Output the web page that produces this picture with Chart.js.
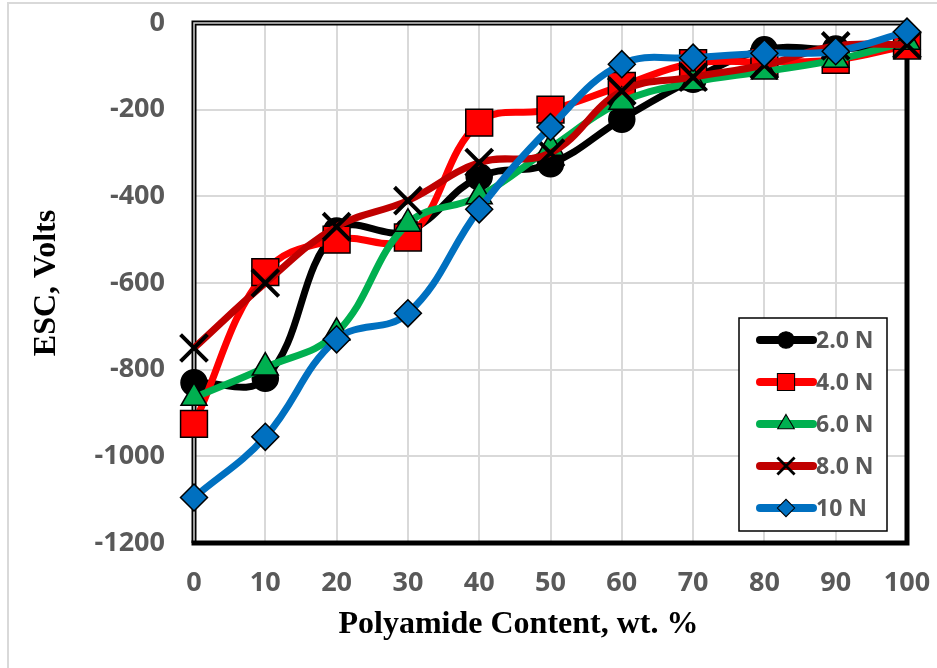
<!DOCTYPE html>
<html>
<head>
<meta charset="utf-8">
<title>ESC vs Polyamide Content</title>
<script src="https://cdn.jsdelivr.net/npm/chart.js"></script>
<style>
  body { margin: 0; background: #fff; overflow: hidden; }
  #wrap { position: relative; width: 937px; height: 668px; }
  #edge { position: absolute; left: 7px; top: 2px; width: 1000px; height: 1000px;
          border-left: 2px solid #d9d9d9; border-top: 2px solid #d9d9d9; }
  #chart { position: absolute; left: 0; top: 0; }
</style>
</head>
<body>
<div id="wrap">
  <div id="edge"></div>
  <canvas id="chart" width="937" height="668"></canvas>
</div>
<script>
// Polyamide content (wt. %)
const content = [0, 10, 20, 30, 40, 50, 60, 70, 80, 90, 100];

// ESC (Volts) per load
const esc2N  = [-830, -820, -480, -480, -355, -325, -222, -130, -62, -60, -50];
const esc4N  = [-925, -575, -500, -495, -230, -200, -145, -93, -90, -85, -52];
const esc6N  = [-865, -795, -715, -463, -400, -288, -182, -137, -112, -85, -43];
const esc8N  = [-750, -600, -470, -410, -322, -300, -157, -125, -97, -53, -50];
const esc10N = [-1095, -955, -730, -670, -430, -240, -95, -80, -70, -65, -20];

const seriesNames = ['2.0 N', '4.0 N', '6.0 N', '8.0 N', '10 N'];

const tickFont = { family: "'Open Sans', sans-serif", weight: 'bold', size: 27 };
const titleFont = { family: "'Liberation Serif', 'Times New Roman', serif", weight: 'bold', size: 32 };

function toPoints(values) {
  return values.map((v, i) => ({ x: content[i], y: v }));
}

function series(label, values, color, style, radius, fill, bw, order) {
  return {
    label: label,
    data: toPoints(values),
    borderColor: color,
    backgroundColor: color,
    borderWidth: 7,
    tension: 0.4,
    pointStyle: style,
    pointRadius: radius,
    pointHoverRadius: radius,
    pointBackgroundColor: fill,
    pointBorderColor: '#000',
    pointBorderWidth: bw,
    clip: false,
    order: order
  };
}

// frame round the plot area: thin double line left/top, heavy line right/bottom
const plotFrame = {
  id: 'plotFrame',
  beforeDatasetsDraw(chart) {
    const { ctx, chartArea: a } = chart;
    ctx.save();
    ctx.beginPath();
    ctx.moveTo(a.left, a.bottom);
    ctx.lineTo(a.left, a.top);
    ctx.lineTo(a.right, a.top);
    ctx.strokeStyle = '#000';
    ctx.lineWidth = 5;
    ctx.stroke();
    ctx.strokeStyle = '#d0d0d0';
    ctx.lineWidth = 1.5;
    ctx.stroke();
    ctx.beginPath();
    ctx.moveTo(a.left - 2.5, a.bottom);
    ctx.lineTo(a.right, a.bottom);
    ctx.lineTo(a.right, a.top - 2.5);
    ctx.strokeStyle = '#000';
    ctx.lineWidth = 5;
    ctx.stroke();
    ctx.restore();
  }
};

// legend box inside the plot, lower right
const insideLegend = {
  id: 'insideLegend',
  afterDatasetsDraw(chart) {
    const { ctx, chartArea: a } = chart;
    const w = 148, h = 213;
    const x0 = a.right - 20 - w, y0 = a.bottom - 12 - h;
    ctx.save();
    ctx.fillStyle = '#fff';
    ctx.fillRect(x0, y0, w, h);
    ctx.strokeStyle = '#000';
    ctx.lineWidth = 1.5;
    ctx.strokeRect(x0, y0, w, h);
    chart.data.datasets.forEach((ds, i) => {
      const y = y0 + 22 + i * 42;
      ctx.beginPath();
      ctx.moveTo(x0 + 21, y);
      ctx.lineTo(x0 + 74, y);
      ctx.strokeStyle = ds.borderColor;
      ctx.lineWidth = 8;
      ctx.lineCap = 'round';
      ctx.stroke();
      ctx.lineCap = 'butt';
      ctx.fillStyle = ds.pointBackgroundColor;
      ctx.strokeStyle = ds.pointBorderColor;
      ctx.lineWidth = ds.pointBorderWidth * 0.7;
      Chart.helpers.drawPoint(ctx, {
        pointStyle: ds.pointStyle,
        radius: ds.pointRadius * 0.64,
        rotation: 0,
        borderWidth: ds.pointBorderWidth
      }, x0 + 47, y);
      ctx.fillStyle = '#595959';
      ctx.font = "bold 23px 'Open Sans', sans-serif";
      ctx.textAlign = 'left';
      ctx.textBaseline = 'middle';
      ctx.fillText(ds.label, x0 + 77, y + 1);
    });
    ctx.restore();
  }
};

new Chart(document.getElementById('chart'), {
  type: 'line',
  data: {
    datasets: [
      series(seriesNames[0], esc2N, '#000000', 'circle', 13, '#000000', 1.5, 5),
      series(seriesNames[1], esc4N, '#ff0000', 'rect', 19, '#ff0000', 1.5, 4),
      series(seriesNames[2], esc6N, '#00b050', 'triangle', 15, '#00b050', 1.5, 3),
      series(seriesNames[3], esc8N, '#c00000', 'crossRot', 19, '#000000', 4, 2),
      series(seriesNames[4], esc10N, '#0070c0', 'rectRot', 13.5, '#0070c0', 1.5, 1)
    ]
  },
  options: {
    responsive: false,
    animation: false,
    layout: { padding: { top: 22, right: 30, left: 0, bottom: 0 } },
    plugins: { legend: { display: false }, tooltip: { enabled: false } },
    scales: {
      x: {
        type: 'linear',
        min: 0,
        max: 100,
        afterFit: (scale) => {
          scale.height = 125;
          scale.paddingLeft = 0;
          scale.paddingRight = 0;
        },
        ticks: {
          stepSize: 10,
          padding: 24,
          color: '#595959',
          font: tickFont
        },
        grid: { color: '#d9d9d9', lineWidth: 2, drawTicks: false },
        border: { display: false },
        title: {
          display: true,
          text: 'Polyamide Content, wt. %        ',
          color: '#000',
          font: titleFont,
          padding: { top: 0, bottom: 24 }
        }
      },
      y: {
        min: -1200,
        max: 0,
        afterFit: (scale) => {
          scale.width = 194;
          scale.paddingTop = 0;
          scale.paddingBottom = 0;
        },
        ticks: {
          stepSize: 200,
          padding: 29,
          color: '#595959',
          font: tickFont,
          callback: (v) => String(v)
        },
        grid: { color: '#d9d9d9', lineWidth: 2, drawTicks: false },
        border: { display: false },
        title: {
          display: true,
          text: 'ESC, Volts',
          color: '#000',
          font: titleFont,
          padding: { top: 28, bottom: 0 }
        }
      }
    }
  },
  plugins: [plotFrame, insideLegend]
});
</script>
</body>
</html>
